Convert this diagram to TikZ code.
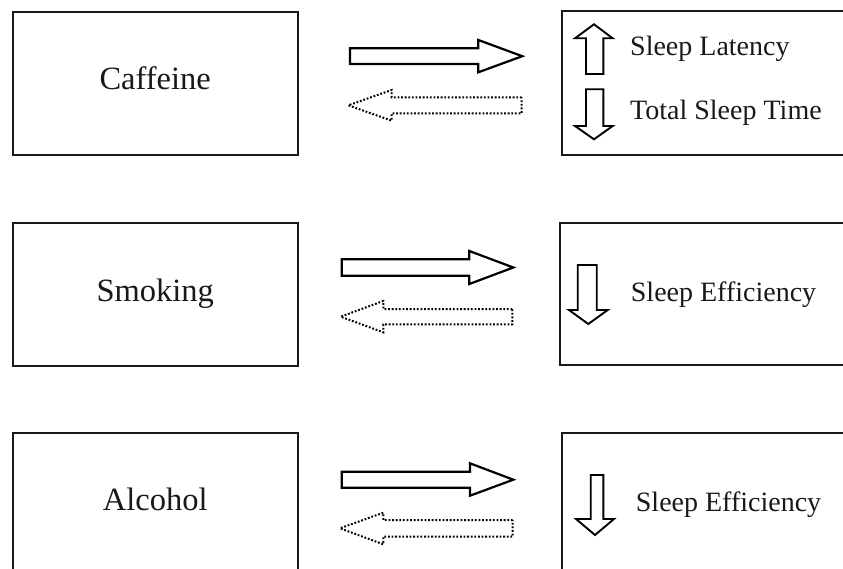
\documentclass[tikz,border=0pt]{standalone}
\usepackage{fontspec}
\setmainfont{Liberation Serif}
\begin{document}
\begin{tikzpicture}[x=1pt,y=-1pt,
  frame/.style={draw=black!90,line width=2.2pt},
  solidarrow/.style={draw=black,line width=2.2pt,line join=miter},
  dotarrow/.style={draw=black,line width=2pt,dash pattern=on 1.8pt off 1.8pt},
  vertarrow/.style={draw=black,line width=1.9pt,line join=miter},
  bigtext/.style={font=\fontsize{32.5}{36}\selectfont,anchor=base,inner sep=0pt,text=black!90},
  smalltext/.style={font=\fontsize{28}{32}\selectfont,anchor=base west,inner sep=0pt,text=black!90}]
\useasboundingbox (0,0) rectangle (843,569);
\fill[white] (0,0) rectangle (843,569);

% ---------- Row 1 ----------
\draw[frame] (12.7,11.7) rectangle (297.7,155);
\node[bigtext] (caffeine) at (155.2,89.3) {Caffeine};
\draw[frame] (845,11.3) -- (561.7,11.3) -- (561.7,155) -- (845,155);
\draw[solidarrow] (350,48.3) -- (478.3,48.3) -- (478.3,40) -- (522.3,56.2)
  -- (478.3,72.3) -- (478.3,64) -- (350,64) -- cycle;
\draw[dotarrow] (521.7,97.3) -- (391.7,97.3) -- (391.7,90) -- (348.3,105.3)
  -- (391.7,120.7) -- (391.7,113.3) -- (521.7,113.3) -- cycle;
\draw[vertarrow] (586,74) -- (586,38.3) -- (575,38.3) -- (594,24.3)
  -- (612.7,38.3) -- (603.3,38.3) -- (603.3,74) -- cycle;
\draw[vertarrow] (586,89.3) -- (586,126) -- (575,126) -- (594,139.3)
  -- (612.7,126) -- (603.3,126) -- (603.3,89.3) -- cycle;
\node[smalltext] (latency) at (630,56) {Sleep Latency};
\node[smalltext] (total) at (630,120) {Total Sleep Time};

% ---------- Row 2 ----------
\draw[frame] (12.7,223.3) rectangle (297.7,365.7);
\node[bigtext] (smoking) at (155.2,301.7) {Smoking};
\draw[frame] (845,223.3) -- (560,223.3) -- (560,365.3) -- (845,365.3);
\draw[solidarrow] (341.7,259.3) -- (469.3,259.3) -- (469.3,251) -- (513.3,267.5)
  -- (469.3,284) -- (469.3,275.7) -- (341.7,275.7) -- cycle;
\draw[dotarrow] (512.3,309) -- (383.3,309) -- (383.3,301) -- (340.7,316.7)
  -- (383.3,332.3) -- (383.3,324.3) -- (512.3,324.3) -- cycle;
\draw[vertarrow] (577.7,265) -- (577.7,310) -- (569,310) -- (588.3,324)
  -- (607.7,310) -- (596.7,310) -- (596.7,265) -- cycle;
\node[smalltext] (eff2) at (630.7,301.7) {Sleep Efficiency};

% ---------- Row 3 ----------
\draw[frame] (12.7,575) -- (12.7,432.7) -- (297.7,432.7) -- (297.7,575);
\node[bigtext] (alcohol) at (155.2,510) {Alcohol};
\draw[frame] (845,432.7) -- (561.7,432.7) -- (561.7,575);
\draw[solidarrow] (341.7,471.7) -- (470,471.7) -- (470,463.3) -- (513.3,479.7)
  -- (470,495.7) -- (470,487.7) -- (341.7,487.7) -- cycle;
\draw[dotarrow] (512.7,520) -- (383.3,520) -- (383.3,512.7) -- (340,528.3)
  -- (383.3,544.3) -- (383.3,536.7) -- (512.7,536.7) -- cycle;
\draw[vertarrow] (590.7,475) -- (590.7,519) -- (576,519) -- (595,535)
  -- (614,519) -- (603.3,519) -- (603.3,475) -- cycle;
\node[smalltext] (eff3) at (635.7,511.7) {Sleep Efficiency};
\end{tikzpicture}
\end{document}
